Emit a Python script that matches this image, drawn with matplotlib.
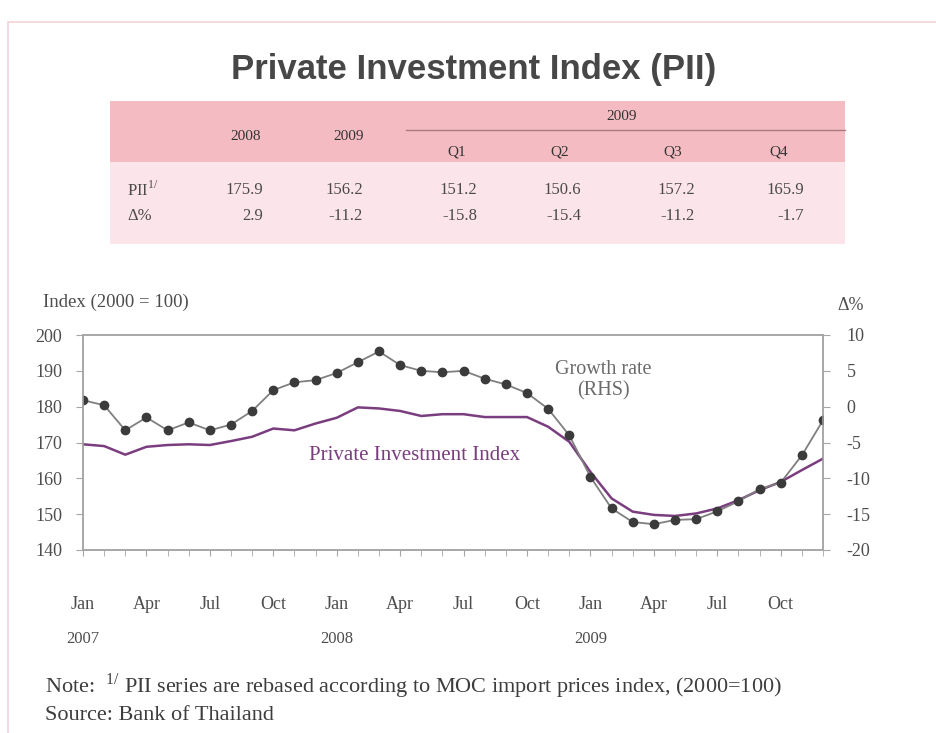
"""Private Investment Index (PII) chart, Bank of Thailand style."""
import matplotlib

matplotlib.use("Agg")
import matplotlib.pyplot as plt
from matplotlib.patches import Rectangle
import numpy as np

plt.rcParams["font.family"] = ["Liberation Serif", "DejaVu Serif"]
plt.rcParams["axes.unicode_minus"] = False
plt.rcParams["mathtext.fontset"] = "custom"
plt.rcParams["mathtext.rm"] = "Liberation Serif"

# ---- data -----------------------------------------------------------------
table_cols = ["2008", "2009", "Q1", "Q2", "Q3", "Q4"]
table_pii = ["175.9", "156.2", "151.2", "150.6", "157.2", "165.9"]
table_pct = ["2.9", "-11.2", "-15.8", "-15.4", "-11.2", "-1.7"]

# monthly, Jan 2007 .. Dec 2009
pii_index = [169.5, 169.0, 166.6, 168.8, 169.3, 169.5, 169.3, 170.4, 171.6, 173.9, 173.4, 175.3,
             176.9, 179.8, 179.5, 178.8, 177.4, 177.9, 177.9, 177.1, 177.1, 177.1, 174.4, 170.2,
             161.8, 154.4, 150.7, 149.8, 149.5, 150.2, 151.6, 153.9, 156.7, 159.0, 162.3, 165.5]
growth_rate = [0.9, 0.2, -3.3, -1.5, -3.3, -2.2, -3.3, -2.5, -0.6, 2.3, 3.4, 3.7,
               4.7, 6.2, 7.7, 5.8, 5.0, 4.8, 5.0, 3.9, 3.1, 1.9, -0.3, -4.0,
               -9.8, -14.2, -16.1, -16.4, -15.8, -15.7, -14.6, -13.2, -11.5, -10.6, -6.8, -1.9]
month_labels = ["Jan", "Apr", "Jul", "Oct"] * 3
year_labels = ["2007", "2008", "2009"]

W, H = 936, 733


def px(x, y):
    return x / W, 1 - y / H


fig = plt.figure(figsize=(W / 100, H / 100), dpi=100)
fig.patch.set_facecolor("white")

# faint page frame
fig.patches.append(Rectangle(px(8, 740), (W + 10) / W, (740 - 22) / H, transform=fig.transFigure,
                             fill=False, edgecolor="#f1d3d8", lw=1.2))

# title
fig.text(*px(474, 70), "Private Investment Index (PII)", ha="center", va="center",
         fontsize=25, fontweight="bold", color="#474747",
         family=["Liberation Sans Narrow", "Liberation Sans", "DejaVu Sans"])

# ---- table ----------------------------------------------------------------
fig.patches.append(Rectangle(px(110, 162), 735 / W, 61 / H, transform=fig.transFigure,
                             facecolor="#f4bcc2", edgecolor="none"))
fig.patches.append(Rectangle(px(110, 244), 735 / W, 82 / H, transform=fig.transFigure,
                             facecolor="#fce4eb", edgecolor="none"))
fig.lines.append(plt.Line2D([406 / W, 845 / W], [1 - 130 / H, 1 - 130 / H], transform=fig.transFigure,
                            color="#a87a80", lw=1))

hdr_x = [246, 349, 457, 560, 673, 779]
val_right = [263, 363, 477, 581, 695, 804]
tcol = "#4a4a4a"
fig.text(*px(622, 117), "2009", ha="center", va="center", fontsize=11, color="#333333")
for i, c in enumerate(table_cols):
    yy = 137 if i < 2 else 152
    fig.text(*px(hdr_x[i], yy), c, ha="center", va="center", fontsize=11, color="#333333")
    fig.text(*px(val_right[i], 190), table_pii[i], ha="right", va="center", fontsize=12, color=tcol)
    fig.text(*px(val_right[i], 216), table_pct[i], ha="right", va="center", fontsize=12, color=tcol)
fig.text(*px(127, 190), r"PII$^{\mathregular{1/}}$", ha="left", va="center", fontsize=12, color=tcol)
fig.text(*px(127, 216), "Δ%", ha="left", va="center", fontsize=12, color=tcol)

# ---- chart ----------------------------------------------------------------
left, right, top, bottom = 83, 823, 335, 550
ax = fig.add_axes([left / W, 1 - bottom / H, (right - left) / W, (bottom - top) / H])
ax2 = ax.twinx()

x = np.arange(len(pii_index))
ax.plot(x, pii_index, color="#7a3d7f", lw=1.8, zorder=3)
ax2.plot(x, growth_rate, color="#7f7f7f", lw=1.3, marker="o", ms=6,
         mfc="#3b3b3b", mec="#3b3b3b", zorder=2)

ax.set_xlim(0, len(pii_index) - 1)
ax.set_ylim(140, 200)
ax.set_yticks(np.arange(140, 201, 10))
ax2.set_ylim(-20, 10)
ax2.set_yticks(np.arange(-20, 11, 5))

spine_c = "#a5a5a5"
for a in (ax, ax2):
    for s in a.spines.values():
        s.set_color(spine_c)
        s.set_linewidth(1.1)

ax.set_xticks(x[::3])
ax.set_xticklabels(month_labels)
ax.set_xticks(x, minor=True)
ax.tick_params(axis="x", which="both", direction="out", length=4, color=spine_c, pad=29,
               labelsize=13, labelcolor="#4d4d4d")
ax.tick_params(axis="y", direction="out", length=5, color=spine_c, pad=10,
               labelsize=13, labelcolor="#4d4d4d")
ax2.tick_params(axis="y", direction="out", length=5, color=spine_c, pad=12,
                labelsize=13, labelcolor="#4d4d4d")
for lab in ax2.get_yticklabels():
    lab.set_horizontalalignment("left")

for k, yr in enumerate(year_labels):
    ax.annotate(yr, xy=(x[12 * k], 0), xycoords=("data", "axes fraction"),
                xytext=(0, -89), textcoords="offset pixels", ha="center", va="center",
                fontsize=12, color="#4d4d4d")

fig.text(*px(43, 302), "Index (2000 = 100)", ha="left", va="center", fontsize=13.5, color="#4d4d4d")
fig.text(*px(837, 306), "Δ%", ha="left", va="center", fontsize=13, color="#4d4d4d")

ax.text(10.7, 166.3, "Private Investment Index", ha="left", va="center", fontsize=15, color="#7a3d7f")
ax.text(24.6, 187.3, "Growth rate\n(RHS)", ha="center", va="center", fontsize=14.5,
        color="#6b6b6b", linespacing=1.15)

# ---- notes ----------------------------------------------------------------
fig.text(*px(45, 686), r"Note:  $^{\mathregular{1/}}$ PII series are rebased according to MOC import prices index, (2000=100)",
         ha="left", va="center", fontsize=16, color="#3d3d3d")
fig.text(*px(45, 716), "Source: Bank of Thailand", ha="left", va="center", fontsize=16, color="#3d3d3d")

fig.savefig("out.png", dpi=100)
